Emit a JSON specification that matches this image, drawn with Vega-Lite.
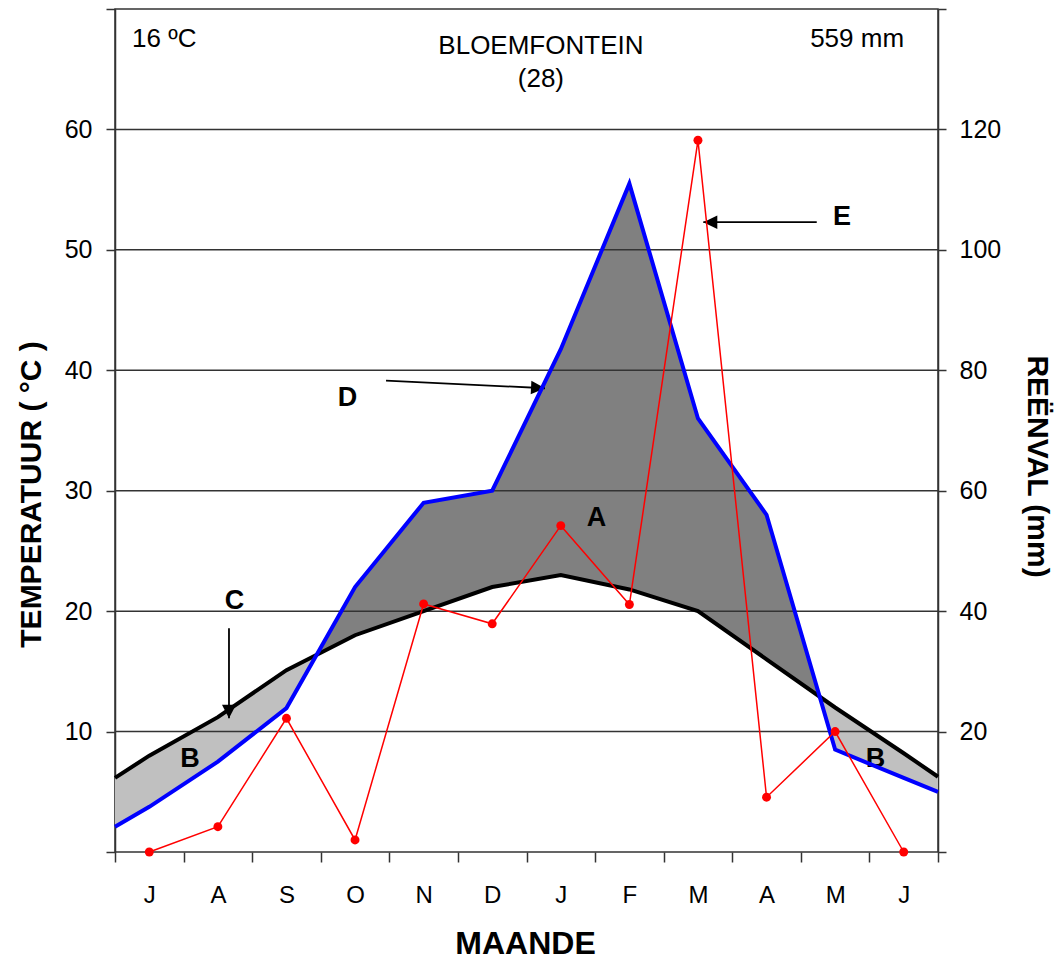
{
  "$schema": "https://vega.github.io/schema/vega-lite/v6.json",
  "width": 823,
  "height": 843,
  "autosize": {"type": "none"},
  "padding": {"left": 115, "top": 9, "right": 124, "bottom": 108},
  "background": "white",
  "config": {
    "view": {"stroke": "#333", "strokeWidth": 1.5},
    "font": "Liberation Sans",
    "axis": {
      "labelColor": "#000", "titleColor": "#000", "tickColor": "#333", "tickWidth": 1.5,
      "domainColor": "#333", "domainWidth": 1.5, "labelFont": "Liberation Sans",
      "titleFont": "Liberation Sans", "grid": false, "zindex": 1
    }
  },
  "datasets": {
    "monthly": [
      {"x": 0, "temp": 6.15, "rain": 4.2},
      {"x": 0.5, "m": "J", "temp": 8.0, "rain": 7.5, "red": 0},
      {"x": 1.5, "m": "A", "temp": 11.2, "rain": 15.0, "red": 4.2},
      {"x": 2.5, "m": "S", "temp": 15.1, "rain": 23.9, "red": 22.2},
      {"x": 3.5, "m": "O", "temp": 18.0, "rain": 44.0, "red": 2.0},
      {"x": 4.5, "m": "N", "temp": 20.0, "rain": 58.0, "red": 41.2},
      {"x": 5.5, "m": "D", "temp": 22.0, "rain": 60.0, "red": 37.9},
      {"x": 6.5, "m": "J", "temp": 23.0, "rain": 83.5, "red": 54.2},
      {"x": 7.5, "m": "F", "temp": 21.8, "rain": 111.0, "red": 41.1},
      {"x": 8.5, "m": "M", "temp": 20.0, "rain": 72.0, "red": 118.2},
      {"x": 9.5, "m": "A", "temp": 16.0, "rain": 56.0, "red": 9.1},
      {"x": 10.5, "m": "M", "temp": 12.0, "rain": 17.0, "red": 20.0},
      {"x": 11.5, "m": "J", "temp": 8.2, "rain": 12.3, "red": 0},
      {"x": 12, "temp": 6.25, "rain": 10.0}
    ],
    "band": [
      {"seg": "1", "kind": "light", "x": 0, "t": 6.15, "p": 2.1},
      {"seg": "1", "kind": "light", "x": 0.5, "t": 8.0, "p": 3.75},
      {"seg": "1", "kind": "light", "x": 1.5, "t": 11.2, "p": 7.5},
      {"seg": "1", "kind": "light", "x": 2.5, "t": 15.1, "p": 11.95},
      {"seg": "1", "kind": "light", "x": 2.94, "t": 16.38, "p": 16.38},
      {"seg": "2", "kind": "dark", "x": 2.94, "t": 16.38, "p": 16.38},
      {"seg": "2", "kind": "dark", "x": 3.5, "t": 18.0, "p": 22.0},
      {"seg": "2", "kind": "dark", "x": 4.5, "t": 20.0, "p": 29.0},
      {"seg": "2", "kind": "dark", "x": 5.5, "t": 22.0, "p": 30.0},
      {"seg": "2", "kind": "dark", "x": 6.5, "t": 23.0, "p": 41.75},
      {"seg": "2", "kind": "dark", "x": 7.5, "t": 21.8, "p": 55.5},
      {"seg": "2", "kind": "dark", "x": 8.5, "t": 20.0, "p": 36.0},
      {"seg": "2", "kind": "dark", "x": 9.5, "t": 16.0, "p": 28.0},
      {"seg": "2", "kind": "dark", "x": 10.27, "t": 12.9, "p": 12.9},
      {"seg": "3", "kind": "light", "x": 10.27, "t": 12.9, "p": 12.9},
      {"seg": "3", "kind": "light", "x": 10.5, "t": 12.0, "p": 8.5},
      {"seg": "3", "kind": "light", "x": 11.5, "t": 8.2, "p": 6.15},
      {"seg": "3", "kind": "light", "x": 12, "t": 6.25, "p": 5.0}
    ],
    "arrows": [
      {"id": "D", "x1": 3.952, "y1": 39.14, "x2": 6.27, "y2": 38.51},
      {"id": "E", "x1": 10.232, "y1": 52.3, "x2": 8.578, "y2": 52.3},
      {"id": "C", "x1": 1.662, "y1": 18.58, "x2": 1.662, "y2": 11.1}
    ]
  },
  "layer": [
    {
      "layer": [
        {
          "data": {"name": "band"},
          "mark": {"type": "area", "opacity": 1},
          "encoding": {
            "x": {
              "field": "x", "type": "quantitative",
              "scale": {"domain": [0, 12], "nice": false, "zero": false},
              "axis": {
                "values": [0, 1, 2, 3, 4, 5, 6, 7, 8, 9, 10, 11, 12],
                "labelExpr": "datum.value >= 12 ? '' : substring('JASONDJFMAMJ', datum.value, datum.value + 1)",
                "labelOffset": 34.3,
                "labels": true, "labelOpacity": 1,
                "tickSize": 10, "labelPadding": 21, "labelFontSize": 24, "labelOverlap": false,
                "labelFlush": false, "labelBound": false, "domain": false,
                "title": "MAANDE", "titleFontSize": 32, "titleFontWeight": "bold",
                "titleX": 410, "titleY": 101, "titleBaseline": "alphabetic", "titleAnchor": "middle"
              }
            },
            "y": {
              "field": "t", "type": "quantitative", "stack": null,
              "scale": {"domain": [0, 70], "nice": false, "zero": true},
              "axis": {
                "orient": "left",
                "values": [0, 10, 20, 30, 40, 50, 60, 70],
                "labelExpr": "datum.value == 0 || datum.value == 70 ? '' : datum.label",
                "tickSize": 9, "labelPadding": 14, "labelFontSize": 25, "domain": true,
                "title": "TEMPERATUUR ( °C )", "titleFontSize": 30, "titleFontWeight": "bold",
                "titleX": -75, "titleY": 485, "titleBaseline": "alphabetic", "titleAlign": "center"
              }
            },
            "y2": {"field": "p"},
            "color": {
              "field": "kind", "type": "nominal",
              "scale": {"domain": ["light", "dark"], "range": ["#c0c0c0", "#808080"]},
              "legend": null
            },
            "detail": {"field": "seg"}
          }
        },
        {
          "data": {"values": [{"g": 10}, {"g": 20}, {"g": 30}, {"g": 40}, {"g": 50}, {"g": 60}]},
          "mark": {"type": "rule", "color": "#333", "strokeWidth": 1.5},
          "encoding": {
            "y": {"field": "g", "type": "quantitative", "scale": {"domain": [0, 70], "nice": false, "zero": true}}
          }
        },
        {
          "data": {"name": "monthly"},
          "mark": {"type": "line", "color": "#000", "strokeWidth": 4},
          "encoding": {
            "x": {"field": "x", "type": "quantitative", "scale": {"domain": [0, 12], "nice": false, "zero": false}},
            "y": {"field": "temp", "type": "quantitative", "scale": {"domain": [0, 70], "nice": false, "zero": true}}
          }
        },
        {
          "data": {"name": "arrows"},
          "mark": {"type": "rule", "color": "#000", "strokeWidth": 1.8},
          "encoding": {
            "x": {"field": "x1", "type": "quantitative", "scale": {"domain": [0, 12], "nice": false, "zero": false}},
            "y": {"field": "y1", "type": "quantitative", "scale": {"domain": [0, 70], "nice": false, "zero": true}},
            "x2": {"field": "x2"},
            "y2": {"field": "y2"}
          }
        },
        {
          "data": {"name": "arrows"},
          "transform": [{"filter": "datum.id == 'D'"}],
          "mark": {"type": "point", "shape": "M0,0L-1,-0.48L-1,0.48Z", "filled": true, "color": "#000", "opacity": 1, "size": 784, "angle": 3},
          "encoding": {
            "x": {"field": "x2", "type": "quantitative", "scale": {"domain": [0, 12], "nice": false, "zero": false}},
            "y": {"field": "y2", "type": "quantitative", "scale": {"domain": [0, 70], "nice": false, "zero": true}}
          }
        },
        {
          "data": {"name": "arrows"},
          "transform": [{"filter": "datum.id == 'E'"}],
          "mark": {"type": "point", "shape": "M0,0L-1,-0.48L-1,0.48Z", "filled": true, "color": "#000", "opacity": 1, "size": 784, "angle": 180},
          "encoding": {
            "x": {"field": "x2", "type": "quantitative", "scale": {"domain": [0, 12], "nice": false, "zero": false}},
            "y": {"field": "y2", "type": "quantitative", "scale": {"domain": [0, 70], "nice": false, "zero": true}}
          }
        },
        {
          "data": {"name": "arrows"},
          "transform": [{"filter": "datum.id == 'C'"}],
          "mark": {"type": "point", "shape": "M0,0L-1,-0.52L-1,0.52Z", "filled": true, "color": "#000", "opacity": 1, "size": 729, "angle": 90},
          "encoding": {
            "x": {"field": "x2", "type": "quantitative", "scale": {"domain": [0, 12], "nice": false, "zero": false}},
            "y": {"field": "y2", "type": "quantitative", "scale": {"domain": [0, 70], "nice": false, "zero": true}}
          }
        },
        {
          "data": {"values": [{"x": 0.248, "y": 66.86, "text": "16 ºC"}]},
          "mark": {"type": "text", "align": "left", "baseline": "alphabetic", "fontSize": 26, "font": "Liberation Sans", "color": "#000"},
          "encoding": {
            "x": {"field": "x", "type": "quantitative", "scale": {"domain": [0, 12], "nice": false, "zero": false}},
            "y": {"field": "y", "type": "quantitative", "scale": {"domain": [0, 70], "nice": false, "zero": true}},
            "text": {"field": "text"}
          }
        },
        {
          "data": {"values": [{"x": 6.21, "y": 66.28, "text": "BLOEMFONTEIN"}, {"x": 6.21, "y": 63.54, "text": "(28)"}]},
          "mark": {"type": "text", "align": "center", "baseline": "alphabetic", "fontSize": 26, "font": "Liberation Sans", "color": "#000"},
          "encoding": {
            "x": {"field": "x", "type": "quantitative", "scale": {"domain": [0, 12], "nice": false, "zero": false}},
            "y": {"field": "y", "type": "quantitative", "scale": {"domain": [0, 70], "nice": false, "zero": true}},
            "text": {"field": "text"}
          }
        },
        {
          "data": {"values": [{"x": 11.505, "y": 66.86, "text": "559 mm"}]},
          "mark": {"type": "text", "align": "right", "baseline": "alphabetic", "fontSize": 26, "font": "Liberation Sans", "color": "#000"},
          "encoding": {
            "x": {"field": "x", "type": "quantitative", "scale": {"domain": [0, 12], "nice": false, "zero": false}},
            "y": {"field": "y", "type": "quantitative", "scale": {"domain": [0, 70], "nice": false, "zero": true}},
            "text": {"field": "text"}
          }
        },
        {
          "data": {"values": [
            {"x": 7.021, "y": 27.08, "text": "A"},
            {"x": 1.094, "y": 7.06, "text": "B"},
            {"x": 11.089, "y": 7.06, "text": "B"},
            {"x": 1.742, "y": 20.18, "text": "C"},
            {"x": 3.39, "y": 37.04, "text": "D"},
            {"x": 10.601, "y": 52.08, "text": "E"}
          ]},
          "mark": {"type": "text", "align": "center", "baseline": "alphabetic", "fontSize": 27, "fontWeight": "bold", "font": "Liberation Sans", "color": "#000"},
          "encoding": {
            "x": {"field": "x", "type": "quantitative", "scale": {"domain": [0, 12], "nice": false, "zero": false}},
            "y": {"field": "y", "type": "quantitative", "scale": {"domain": [0, 70], "nice": false, "zero": true}},
            "text": {"field": "text"}
          }
        }
      ]
    },
    {
      "data": {"name": "monthly"},
      "layer": [
        {
          "mark": {"type": "line", "color": "#0000ff", "strokeWidth": 4},
          "encoding": {
            "x": {"field": "x", "type": "quantitative", "scale": {"domain": [0, 12], "nice": false, "zero": false}},
            "y": {
              "field": "rain", "type": "quantitative",
              "scale": {"domain": [0, 140], "nice": false, "zero": true},
              "axis": {
                "orient": "right",
                "values": [0, 20, 40, 60, 80, 100, 120, 140],
                "labelExpr": "datum.value == 0 || datum.value == 140 ? '' : datum.label",
                "tickSize": 8, "labelPadding": 13, "labelFontSize": 25, "domain": true,
                "title": "REËNVAL (mm)", "titleFontSize": 30, "titleFontWeight": "bold",
                "titleX": 89, "titleY": 457, "titleAngle": 90, "titleBaseline": "alphabetic", "titleAlign": "center"
              }
            }
          }
        },
        {
          "transform": [{"filter": "isValid(datum.red)"}],
          "mark": {"type": "line", "color": "#ff0000", "strokeWidth": 1.5},
          "encoding": {
            "x": {"field": "x", "type": "quantitative", "scale": {"domain": [0, 12], "nice": false, "zero": false}},
            "y": {"field": "red", "type": "quantitative", "scale": {"domain": [0, 140], "nice": false, "zero": true}}
          }
        },
        {
          "transform": [{"filter": "isValid(datum.red)"}],
          "mark": {"type": "circle", "color": "#ff0000", "opacity": 1, "size": 80},
          "encoding": {
            "x": {"field": "x", "type": "quantitative", "scale": {"domain": [0, 12], "nice": false, "zero": false}},
            "y": {"field": "red", "type": "quantitative", "scale": {"domain": [0, 140], "nice": false, "zero": true}}
          }
        }
      ]
    }
  ],
  "resolve": {"scale": {"y": "independent"}}
}
